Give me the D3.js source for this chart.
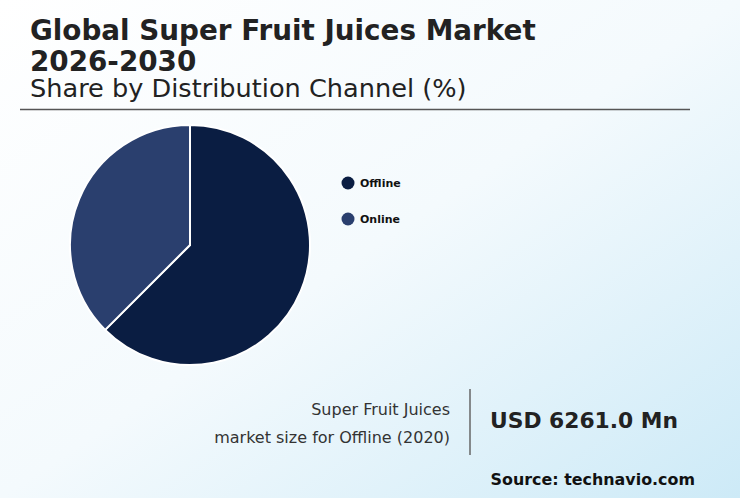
<!DOCTYPE html>
<html><head><meta charset="utf-8">
<script src="https://cdn.jsdelivr.net/npm/d3@7"></script>
<style>body{margin:0}svg{display:block;font-family:"DejaVu Sans",sans-serif}</style>
</head><body><div class="container"></div>
<script>
"use strict";
const categories = ['Offline', 'Online']
const shares = [62.5, 37.5]
const colors = ['#0a1d42', '#2a3f6e']

const W = 740, H = 498
const svg = d3.select('.container').append('svg').attr('width', W).attr('height', H)

// background gradient
const grad = svg.append('defs').append('linearGradient').attr('id', 'bg')
	.attr('x1', '0%').attr('y1', '0%').attr('x2', '100%').attr('y2', '100%')
grad.append('stop').attr('offset', '0%').attr('stop-color', '#ffffff')
grad.append('stop').attr('offset', '50%').attr('stop-color', '#f4fafd')
grad.append('stop').attr('offset', '100%').attr('stop-color', '#cdeaf7')
svg.append('rect').attr('width', W).attr('height', H).attr('fill', 'url(#bg)')

// titles
svg.append('text').attr('x', 30).attr('y', 40).attr('font-size', 27.8).attr('font-weight', 'bold').attr('fill', '#222').text('Global Super Fruit Juices Market')
svg.append('text').attr('x', 30).attr('y', 71).attr('font-size', 27.8).attr('font-weight', 'bold').attr('fill', '#222').text('2026-2030')
svg.append('text').attr('x', 30).attr('y', 97).attr('font-size', 25.6).attr('fill', '#222').text('Share by Distribution Channel (%)')
svg.append('line').attr('x1', 20).attr('x2', 690).attr('y1', 109.5).attr('y2', 109.5).attr('stroke', '#555').attr('stroke-width', 1.5)

// pie
const pie = d3.pie().sort(null)
const arc = d3.arc().innerRadius(0).outerRadius(120)
svg.append('g').attr('transform', 'translate(190,245)')
	.selectAll('path').data(pie(shares)).join('path')
	.attr('d', arc).attr('fill', (d, i) => colors[i])
	.attr('stroke', '#fff').attr('stroke-width', 2)

// legend
const leg = svg.append('g').selectAll('g').data(categories).join('g')
	.attr('transform', (d, i) => `translate(348,${183 + i * 36})`)
leg.append('circle').attr('r', 6.5).attr('fill', (d, i) => colors[i])
leg.append('text').attr('x', 12).attr('y', 4).attr('font-size', 11).attr('font-weight', 'bold').attr('fill', '#111').text(d => d)

// footer
svg.append('text').attr('x', 450).attr('y', 415).attr('text-anchor', 'end').attr('font-size', 16).attr('fill', '#333').text('Super Fruit Juices')
svg.append('text').attr('x', 450).attr('y', 443).attr('text-anchor', 'end').attr('font-size', 16).attr('fill', '#333').text('market size for Offline (2020)')
svg.append('line').attr('x1', 470).attr('x2', 470).attr('y1', 389).attr('y2', 455).attr('stroke', '#666').attr('stroke-width', 1.5)
svg.append('text').attr('x', 490).attr('y', 428).attr('font-size', 21.8).attr('font-weight', 'bold').attr('fill', '#222').text('USD 6261.0 Mn')
svg.append('text').attr('x', 695).attr('y', 485).attr('text-anchor', 'end').attr('font-size', 15.9).attr('font-weight', 'bold').attr('fill', '#111').text('Source: technavio.com')
</script></body></html>
